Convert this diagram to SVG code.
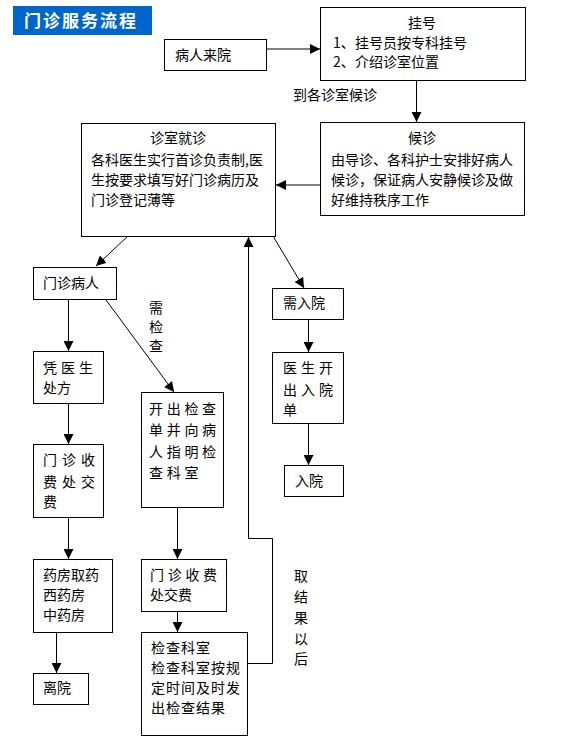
<svg xmlns="http://www.w3.org/2000/svg" width="562" height="753" viewBox="0 0 562 753">
<style>
.box{fill:#fff;stroke:#000;stroke-width:1;shape-rendering:crispEdges}
.t{font-family:"Noto Sans CJK SC","Noto Sans",sans-serif;font-size:14px;fill:#000}
.c{text-anchor:middle}
.ln{fill:none;stroke:#000;stroke-width:1}
.title{font-family:"Noto Sans CJK SC","Noto Sans",sans-serif;font-size:17px;font-weight:bold;fill:#fff;letter-spacing:2px}
</style>
<defs>
<marker id="ah" viewBox="0 0 10 10" refX="10" refY="5" markerWidth="10" markerHeight="10" markerUnits="userSpaceOnUse" orient="auto">
<path d="M0,0 L10,5 L0,10 z" fill="#000"/>
</marker>
</defs>
<rect width="562" height="753" fill="#fff"/>
<g id="title">
<rect x="13" y="6" width="139" height="29" fill="#0066cc"/>
<text class="title" x="24" y="27">门诊服务流程</text>
</g>
<g id="connectors">
<line class="ln" x1="267" y1="49" x2="320" y2="49" marker-end="url(#ah)"/>
<line class="ln" x1="416.5" y1="80" x2="416.5" y2="122" marker-end="url(#ah)"/>
<line class="ln" x1="320" y1="185" x2="276" y2="185" marker-end="url(#ah)"/>
<line class="ln" x1="128" y1="236" x2="96" y2="266" marker-end="url(#ah)"/>
<line class="ln" x1="273" y1="236" x2="304" y2="288" marker-end="url(#ah)"/>
<line class="ln" x1="68.5" y1="299" x2="68.5" y2="351" marker-end="url(#ah)"/>
<line class="ln" x1="68.5" y1="403" x2="68.5" y2="444" marker-end="url(#ah)"/>
<line class="ln" x1="68.5" y1="517" x2="68.5" y2="559" marker-end="url(#ah)"/>
<line class="ln" x1="56.5" y1="632" x2="56.5" y2="673" marker-end="url(#ah)"/>
<line class="ln" x1="106" y1="300" x2="174" y2="392" marker-end="url(#ah)"/>
<line class="ln" x1="177.5" y1="507" x2="177.5" y2="559" marker-end="url(#ah)"/>
<line class="ln" x1="177.5" y1="611" x2="177.5" y2="632" marker-end="url(#ah)"/>
<polyline class="ln" points="248,663.5 272.5,663.5 272.5,538.5 248.5,538.5 248.5,237" marker-end="url(#ah)"/>
<line class="ln" x1="308.5" y1="319" x2="308.5" y2="352" marker-end="url(#ah)"/>
<line class="ln" x1="308.5" y1="423" x2="308.5" y2="465" marker-end="url(#ah)"/>
</g>
<g id="labels">
<text class="t" x="293" y="100">到各诊室候诊</text>
<text class="t" x="149" y="313">需</text>
<text class="t" x="149" y="332">检</text>
<text class="t" x="149" y="351">查</text>
<text class="t" x="294" y="581">取</text>
<text class="t" x="294" y="602">结</text>
<text class="t" x="294" y="623">果</text>
<text class="t" x="294" y="644">以</text>
<text class="t" x="294" y="664">后</text>
</g>
<g id="n-arrive">
<rect class="box" x="164.5" y="39.5" width="102" height="31"/>
<text class="t" x="175" y="60">病人来院</text>
</g>
<g id="n-register">
<rect class="box" x="320.5" y="7.5" width="205" height="73"/>
<text class="t c" x="422" y="28">挂号</text>
<text class="t" x="333" y="48">1、</text><text class="t" x="355" y="48">挂号员按专科挂号</text>
<text class="t" x="333" y="67">2、</text><text class="t" x="355" y="67">介绍诊室位置</text>
</g>
<g id="n-wait">
<rect class="box" x="320.5" y="122.5" width="204" height="93"/>
<text class="t c" x="422" y="143">候诊</text>
<text class="t" x="331" y="165">由导诊、各科护士安排好病人</text>
<text class="t" x="331" y="185">候诊，保证病人安静候诊及做</text>
<text class="t" x="331" y="205">好维持秩序工作</text>
</g>
<g id="n-consult">
<rect class="box" x="81.5" y="123.5" width="194" height="113"/>
<text class="t c" x="178" y="143">诊室就诊</text>
<text class="t" x="91" y="165">各科医生实行首诊负责制,医</text>
<text class="t" x="91" y="185">生按要求填写好门诊病历及</text>
<text class="t" x="91" y="205">门诊登记薄等</text>
</g>
<g id="n-outpatient">
<rect class="box" x="33.5" y="267.5" width="83" height="32"/>
<text class="t" x="43" y="288">门诊病人</text>
</g>
<g id="n-need-admit">
<rect class="box" x="272.5" y="288.5" width="71" height="31"/>
<text class="t" x="283" y="308">需入院</text>
</g>
<g id="n-admit-order">
<rect class="box" x="272.5" y="352.5" width="71" height="71"/>
<text class="t" x="283" y="373" letter-spacing="4">医生开</text>
<text class="t" x="283" y="395" letter-spacing="4">出入院</text>
<text class="t" x="283" y="415">单</text>
</g>
<g id="n-admit">
<rect class="box" x="284.5" y="465.5" width="59" height="31"/>
<text class="t" x="295" y="486">入院</text>
</g>
<g id="n-prescription">
<rect class="box" x="33.5" y="351.5" width="70" height="52"/>
<text class="t" x="43" y="373" letter-spacing="4">凭医生</text>
<text class="t" x="43" y="393">处方</text>
</g>
<g id="n-pay-left">
<rect class="box" x="33.5" y="444.5" width="70" height="73"/>
<text class="t" x="43" y="465" letter-spacing="5">门诊收</text>
<text class="t" x="43" y="487" letter-spacing="5">费处交</text>
<text class="t" x="43" y="507">费</text>
</g>
<g id="n-pharmacy">
<rect class="box" x="33.5" y="559.5" width="79" height="73"/>
<text class="t" x="43" y="580">药房取药</text>
<text class="t" x="43" y="600">西药房</text>
<text class="t" x="43" y="620">中药房</text>
</g>
<g id="n-leave">
<rect class="box" x="33.5" y="673.5" width="55" height="31"/>
<text class="t" x="43" y="693">离院</text>
</g>
<g id="n-exam-order">
<rect class="box" x="141.5" y="392.5" width="82" height="115"/>
<text class="t" x="149" y="414" letter-spacing="3.7">开出检查</text>
<text class="t" x="149" y="435" letter-spacing="3.7">单并向病</text>
<text class="t" x="149" y="457" letter-spacing="3.7">人指明检</text>
<text class="t" x="149" y="478" letter-spacing="3.7">查科室</text>
</g>
<g id="n-pay-mid">
<rect class="box" x="141.5" y="559.5" width="85" height="52"/>
<text class="t" x="150" y="580" letter-spacing="3.7">门诊收费</text>
<text class="t" x="150" y="600">处交费</text>
</g>
<g id="n-exam-dept">
<rect class="box" x="141.5" y="632.5" width="106" height="103"/>
<text class="t" x="151" y="653" letter-spacing="1">检查科室</text>
<text class="t" x="151" y="673" letter-spacing="1">检查科室按规</text>
<text class="t" x="151" y="693" letter-spacing="1">定时间及时发</text>
<text class="t" x="151" y="713" letter-spacing="1">出检查结果</text>
</g>
</svg>
